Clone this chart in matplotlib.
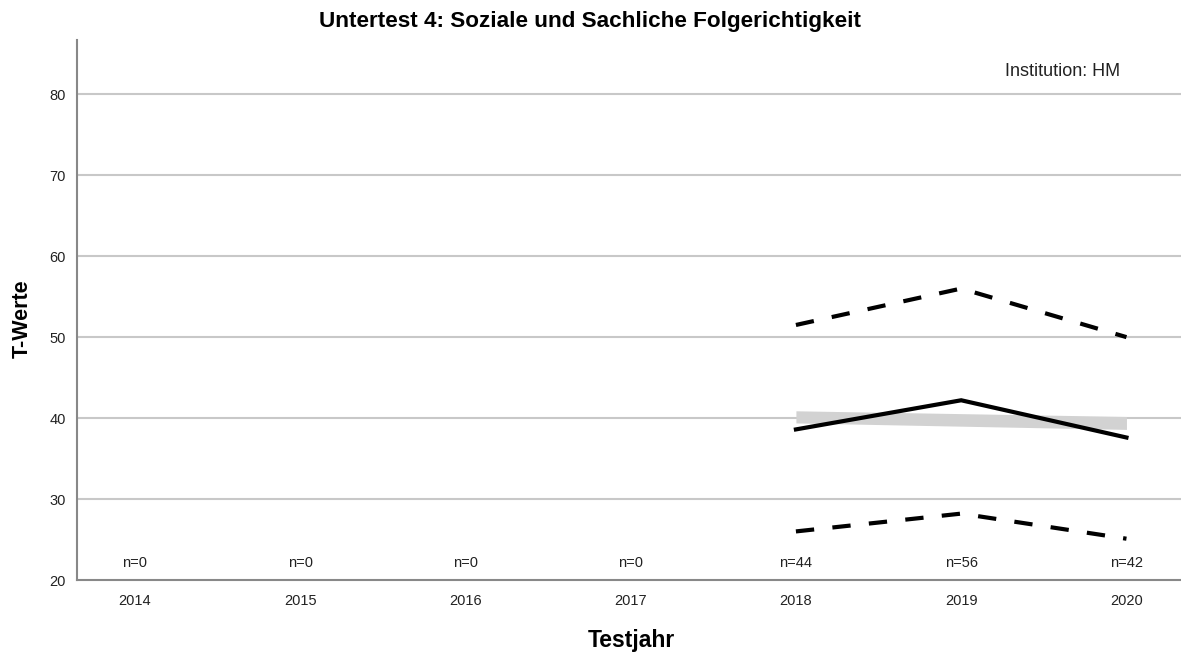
import matplotlib
matplotlib.use("Agg")
import matplotlib.pyplot as plt

plt.rcParams['font.family'] = ['Liberation Sans', 'DejaVu Sans']

years = [2014, 2015, 2016, 2017, 2018, 2019, 2020]
n_labels = ["n=0", "n=0", "n=0", "n=0", "n=44", "n=56", "n=42"]
data_years = [2018, 2019, 2020]
mean_vals = [38.6, 42.2, 37.6]
upper_vals = [51.5, 56.0, 50.0]
lower_vals = [26.0, 28.2, 25.1]
band_years = [2018, 2020]
band_low = [39.4, 38.6]
band_high = [40.9, 40.2]
yticks = [20, 30, 40, 50, 60, 70, 80]

fig = plt.figure(figsize=(11.81, 6.55), dpi=100)
ax = fig.add_axes([77/1181, 75/655, 1 - 77/1181, (580-40)/655])

ax.set_xlim(2013.65, 2020.33)
ax.set_ylim(20, 86.7)

for y in yticks[1:]:
    ax.axhline(y, color='#c8c8c8', linewidth=1.5, zorder=1)

ax.fill_between(band_years, band_low, band_high, color='#d2d2d2', linewidth=0, zorder=2)
ax.plot(data_years, mean_vals, color='black', linewidth=3.0, zorder=3, solid_joinstyle='miter')
ax.plot(data_years, upper_vals, color='black', linewidth=3.0, dashes=(4.4, 4.4), zorder=3)
ax.plot(data_years, lower_vals, color='black', linewidth=3.0, dashes=(4.4, 4.4), zorder=3)

for yr, lab in zip(years, n_labels):
    ax.text(yr, 22.1, lab, ha='center', va='center', fontsize=10.5, color='#222222')

ax.set_xticks(years)
ax.set_xticklabels([str(y) for y in years])
ax.set_yticks(yticks)
ax.tick_params(axis='both', length=0, labelsize=10.5, colors='#222222')
ax.tick_params(axis='x', pad=10)
ax.tick_params(axis='y', pad=8)

for s in ['top', 'right']:
    ax.spines[s].set_visible(False)
ax.spines['left'].set_color('#888888')
ax.spines['bottom'].set_color('#888888')
ax.spines['left'].set_linewidth(1.5)
ax.spines['bottom'].set_linewidth(1.5)

ax.text(1120/1181, 1 - 71/655, "Institution: HM", transform=fig.transFigure, ha='right', va='center',
        fontsize=13, color='#222222')

fig.text(590/1181, 1 - 21/655, "Untertest 4: Soziale und Sachliche Folgerichtigkeit",
         ha='center', va='center', fontsize=16.2, fontweight='bold')
fig.text(22/1181, 1 - 319/655, "T-Werte", ha='center', va='center', rotation=90,
         fontsize=15.5, fontweight='bold')
fig.text(631/1181, 1 - 640/655, "Testjahr", ha='center', va='center',
         fontsize=16.5, fontweight='bold')

fig.savefig("out.png", dpi=100)
